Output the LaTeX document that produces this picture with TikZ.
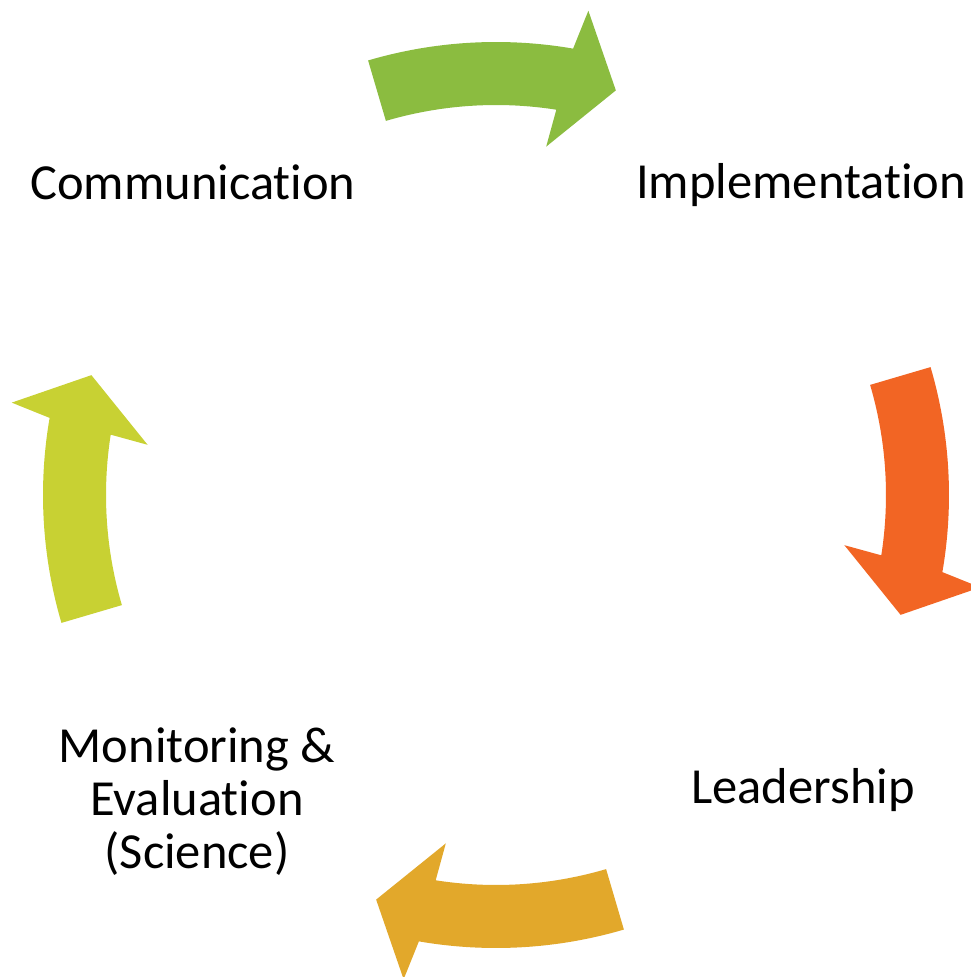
\documentclass[tikz,border=0pt]{standalone}
\usepackage{fontspec}
\setmainfont[Ligatures=NoCommon]{Carlito}
\definecolor{ArrGreen}{RGB}{139,188,64}
\definecolor{ArrOrange}{RGB}{242,101,36}
\definecolor{ArrGold}{RGB}{226,168,43}
\definecolor{ArrLime}{RGB}{200,209,51}
\tikzset{
  lbl/.style={font=\fontsize{50.5}{53}\selectfont, inner sep=0pt, align=center, text=black},
}
\begin{document}
\begin{tikzpicture}[x=1pt,y=1pt]
\useasboundingbox[fill=white] (-496,-482) rectangle (475,495);
\foreach \rot/\col in {0/ArrGreen,-90/ArrOrange,-180/ArrGold,-270/ArrLime}{
  \fill[\col, rotate=\rot] (106.4:453) arc[start angle=106.4, end angle=80.2, radius=453]
    -- (79.2:493) -- (73.5:422) -- (81.8:352) -- (81.1:390)
    arc[start angle=81.1, end angle=106.4, radius=390] -- cycle;
}
\node[lbl, anchor=base] (comm) at (-303,295) {Communication};
\node[lbl, anchor=base] (impl) at (305,296) {Implementation};
\node[lbl, anchor=base] (lead) at (307,-308) {Leadership};
\node[lbl, anchor=base] (mon) at (-299,-373) {Monitoring \&\\Evaluation\\(Science)};
\end{tikzpicture}
\end{document}
